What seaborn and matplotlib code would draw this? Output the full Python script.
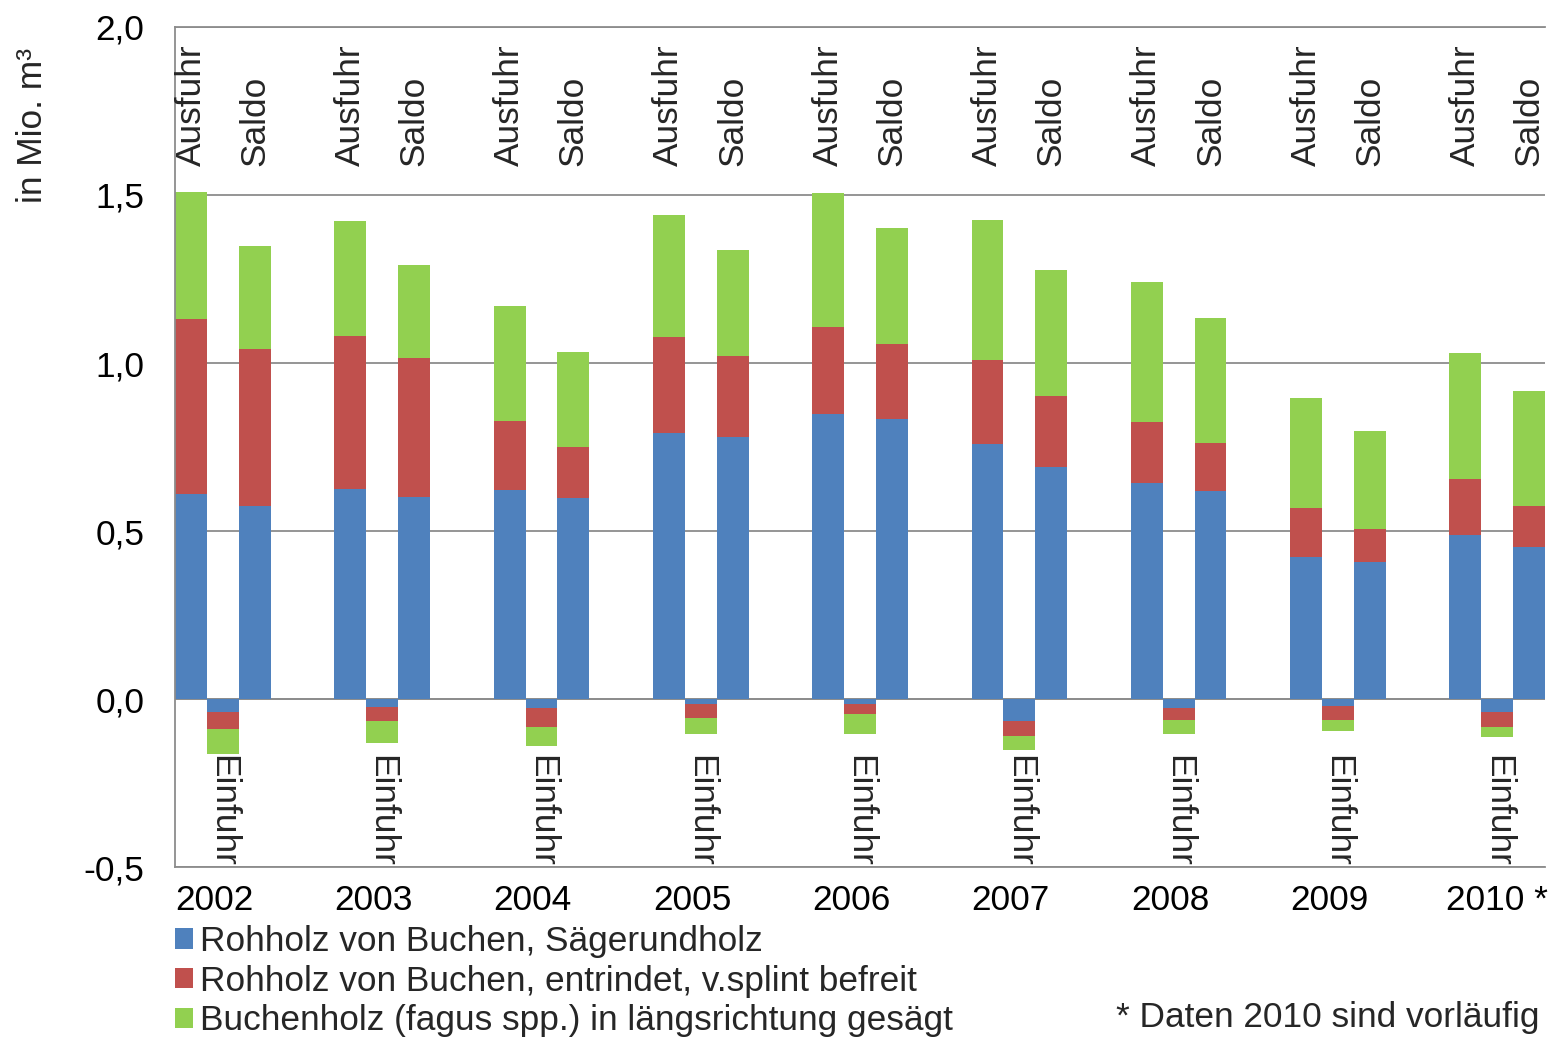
"""Buchenholz: Ausfuhr, Einfuhr und Saldo 2002-2010 (gestapelte Säulen)."""
import matplotlib
matplotlib.use("Agg")
import matplotlib.pyplot as plt
import numpy as np
import pandas as pd
import seaborn as sns
from matplotlib.patches import Patch
from matplotlib.ticker import FuncFormatter

# values in Mio. m³
years = ["2002", "2003", "2004", "2005", "2006", "2007", "2008", "2009", "2010 *"]
components = [
    "Rohholz von Buchen, Sägerundholz",
    "Rohholz von Buchen, entrindet, v.splint befreit",
    "Buchenholz (fagus spp.) in längsrichtung gesägt",
]
ausfuhr_saeger = [0.611, 0.625, 0.622, 0.793, 0.849, 0.759, 0.642, 0.424, 0.489]
ausfuhr_entrindet = [0.520, 0.456, 0.205, 0.284, 0.257, 0.251, 0.182, 0.145, 0.167]
ausfuhr_gesaegt = [0.378, 0.342, 0.343, 0.364, 0.399, 0.416, 0.418, 0.326, 0.374]
einfuhr_saeger = [-0.040, -0.023, -0.026, -0.014, -0.014, -0.066, -0.028, -0.020, -0.040]
einfuhr_entrindet = [-0.049, -0.043, -0.056, -0.041, -0.032, -0.043, -0.034, -0.042, -0.043]
einfuhr_gesaegt = [-0.074, -0.066, -0.057, -0.050, -0.059, -0.043, -0.042, -0.034, -0.031]
saldo_saeger = [0.574, 0.602, 0.597, 0.781, 0.833, 0.691, 0.619, 0.407, 0.451]
saldo_entrindet = [0.468, 0.413, 0.153, 0.240, 0.223, 0.211, 0.144, 0.099, 0.123]
saldo_gesaegt = [0.305, 0.276, 0.282, 0.316, 0.346, 0.375, 0.372, 0.291, 0.344]

colors = ["#4F81BD", "#C0504D", "#92D050"]
GRID = "#8C8C8C"
FS = 25.4

sns.set_theme(style="white")
plt.rcParams["font.family"] = ["Liberation Sans", "DejaVu Sans"]

# long table: one row per bar segment; slot = x position (3 bars + 2 empty per year)
rows = []
series = {
    "Ausfuhr": [ausfuhr_saeger, ausfuhr_entrindet, ausfuhr_gesaegt],
    "Einfuhr": [einfuhr_saeger, einfuhr_entrindet, einfuhr_gesaegt],
    "Saldo": [saldo_saeger, saldo_entrindet, saldo_gesaegt],
}
for k, (kind, comps) in enumerate(series.items()):
    for i, year in enumerate(years):
        for c, vals in enumerate(comps):
            rows.append({"slot": 5 * i + k, "year": year, "kind": kind,
                         "comp": c, "value": vals[i]})
df = pd.DataFrame(rows)
df["cum"] = df.groupby("slot")["value"].cumsum()

fig = plt.figure(figsize=(15.53, 10.38), dpi=100)
ax = fig.add_axes([0.1127, 0.1647, 0.8822, 0.8093])

# draw cumulative totals from top segment down so lower segments sit on top
for c in reversed(range(len(components))):
    sub = df[df["comp"] == c]
    sns.barplot(data=sub, x="slot", y="cum", color=colors[c], native_scale=True,
                width=1.0, linewidth=0, errorbar=None, saturation=1, ax=ax, zorder=2)

ax.set_xlim(-0.5, 5 * (len(years) - 1) + 2.5)
ax.set_ylim(-0.5, 2.0)
ax.set_yticks(np.arange(-0.5, 2.01, 0.5))
ax.yaxis.set_major_formatter(FuncFormatter(lambda v, _: f"{v:.1f}".replace(".", ",")))
ax.grid(axis="y", color=GRID, linewidth=1.3, zorder=0)
ax.set_axisbelow(True)
ax.axhline(0, color=GRID, linewidth=1.3, zorder=1)
for side in ["left", "bottom", "top"]:
    ax.spines[side].set_color(GRID)
    ax.spines[side].set_linewidth(1.3)
ax.spines["right"].set_visible(False)

xt = [5 * i + 1 - (0.27 if i < len(years) - 1 else 0) for i in range(len(years))]
ax.set_xticks(xt)
ax.set_xticklabels(years)
ax.tick_params(axis="x", length=0, pad=12, labelsize=FS, colors="black")
ax.tick_params(axis="y", length=0, pad=22, labelsize=FS, colors="black")
ax.set_xlabel("")
ax.set_ylabel("")

# bar group labels
for i in range(len(years)):
    ax.text(5 * i, 1.585, "Ausfuhr", rotation=90, ha="center", va="bottom", fontsize=FS)
    ax.text(5 * i + 2, 1.585, "Saldo", rotation=90, ha="center", va="bottom", fontsize=FS)
    ax.text(5 * i + 1, -0.166, "Einfuhr", rotation=-90, ha="center", va="top",
            fontsize=FS, clip_on=True)

fig.text(32 / 1553, 1 - 125 / 1038, "in Mio. m³", rotation=90, ha="center",
         va="center", fontsize=FS)
fig.text(1540 / 1553, 1 - 1018 / 1038, "* Daten 2010 sind vorläufig", ha="right",
         va="center", fontsize=FS)

handles = [Patch(facecolor=colors[c], edgecolor="none", label=components[c])
           for c in range(len(components))]
fig.legend(handles=handles, loc="upper left", bbox_to_anchor=(175 / 1553, 1 - 925 / 1038),
           bbox_transform=fig.transFigure, frameon=False, fontsize=FS, borderpad=0,
           borderaxespad=0, handlelength=0.52, handleheight=0.52, handletextpad=0.2,
           labelspacing=0.19)

fig.savefig("out.png", dpi=100)
